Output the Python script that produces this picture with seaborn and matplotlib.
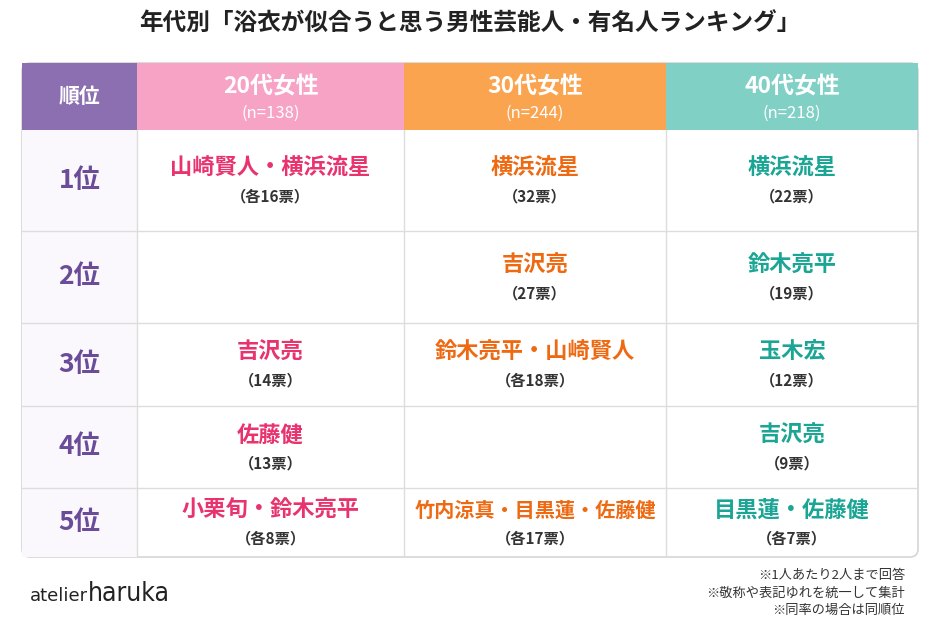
import matplotlib
matplotlib.use("Agg")
import matplotlib.pyplot as plt
from matplotlib.patches import Rectangle, FancyBboxPatch
import seaborn as sns

sns.set_theme(style="white")
plt.rcParams['font.family'] = ['Noto Sans CJK JP', 'DejaVu Sans']

title = "年代別「浴衣が似合うと思う男性芸能人・有名人ランキング」"
ranks = ["1位", "2位", "3位", "4位", "5位"]
groups = ["20代女性", "30代女性", "40代女性"]
group_n = ["(n=138)", "(n=244)", "(n=218)"]
names_20 = ["山崎賢人・横浜流星", "", "吉沢亮", "佐藤健", "小栗旬・鈴木亮平"]
votes_20 = ["（各16票）", "", "（14票）", "（13票）", "（各8票）"]
names_30 = ["横浜流星", "吉沢亮", "鈴木亮平・山崎賢人", "", "竹内涼真・目黒蓮・佐藤健"]
votes_30 = ["（32票）", "（27票）", "（各18票）", "", "（各17票）"]
names_40 = ["横浜流星", "鈴木亮平", "玉木宏", "吉沢亮", "目黒蓮・佐藤健"]
votes_40 = ["（22票）", "（19票）", "（12票）", "（9票）", "（各7票）"]
notes = ["※1人あたり2人まで回答", "※敬称や表記ゆれを統一して集計", "※同率の場合は同順位"]

head_colors = ["#8C6FB1", "#F7A3C5", "#FBA450", "#80D0C6"]
text_colors = ["#E8336F", "#EE6A12", "#1AA595"]
rank_color = "#6A4C99"

fig = plt.figure(figsize=(9.4, 6.27), dpi=100)
ax = fig.add_axes([0, 0, 1, 1])
ax.set_xlim(0, 940); ax.set_ylim(627, 0); ax.axis("off")
fig.patch.set_facecolor("white")

xs = [22, 137, 404, 666, 918]
ys = [63, 130, 231, 323, 406, 488, 557]

ax.text(470, 24, title, ha="center", va="center", fontsize=17, fontweight="bold", color="#222222")

ax.add_patch(FancyBboxPatch((xs[0], ys[0]), xs[-1]-xs[0], ys[-1]-ys[0],
             boxstyle="round,pad=0,rounding_size=8", fc="white", ec="#D6D6D6", lw=1.2, zorder=1))
for i in range(4):
    ax.add_patch(Rectangle((xs[i], ys[0]), xs[i+1]-xs[i], ys[1]-ys[0], fc=head_colors[i], ec="none", zorder=2))
ax.text((xs[0]+xs[1])/2, (ys[0]+ys[1])/2, "順位", ha="center", va="center", fontsize=15, fontweight="bold", color="white", zorder=3)
for i, (g, n) in enumerate(zip(groups, group_n)):
    cx = (xs[i+1]+xs[i+2])/2
    ax.text(cx, 87, g, ha="center", va="center", fontsize=16.5, fontweight="bold", color="white", zorder=3)
    ax.text(cx, 113, n, ha="center", va="center", fontsize=12, color="white", zorder=3)
ax.add_patch(Rectangle((xs[0], ys[1]), xs[1]-xs[0], ys[-1]-ys[1], fc="#FAF8FC", ec="none", zorder=1.5))
for y in ys[2:-1]:
    ax.plot([xs[0], xs[-1]], [y, y], color="#DDDDDD", lw=1, zorder=2.5)
for x in xs[1:-1]:
    ax.plot([x, x], [ys[1], ys[-1]], color="#DDDDDD", lw=1, zorder=2.5)

cols = [(names_20, votes_20), (names_30, votes_30), (names_40, votes_40)]
for r in range(5):
    cy = (ys[r+1]+ys[r+2])/2
    ax.text((xs[0]+xs[1])/2, cy, ranks[r], ha="center", va="center", fontsize=19, fontweight="bold", color=rank_color, zorder=3)
    for c, (nm, vt) in enumerate(cols):
        cx = (xs[c+1]+xs[c+2])/2
        if nm[r]:
            fs = 14.5 if len(nm[r]) > 10 else 16
            ax.text(cx, cy-12, nm[r], ha="center", va="center", fontsize=fs, fontweight="bold", color=text_colors[c], zorder=3)
            ax.text(cx, cy+16, vt[r], ha="center", va="center", fontsize=11, fontweight="bold", color="#333333", zorder=3)

ax.text(30, 596, "atelier", ha="left", va="center", fontsize=13, color="#222222", family="DejaVu Sans")
ax.text(88, 594, "haruka", ha="left", va="center", fontsize=19, color="#222222", family="DejaVu Sans", stretch="condensed")
for i, t in enumerate(notes):
    ax.text(905, 576 + i*17, t, ha="right", va="center", fontsize=9.5, color="#333333")

fig.savefig("out.png", dpi=100)
